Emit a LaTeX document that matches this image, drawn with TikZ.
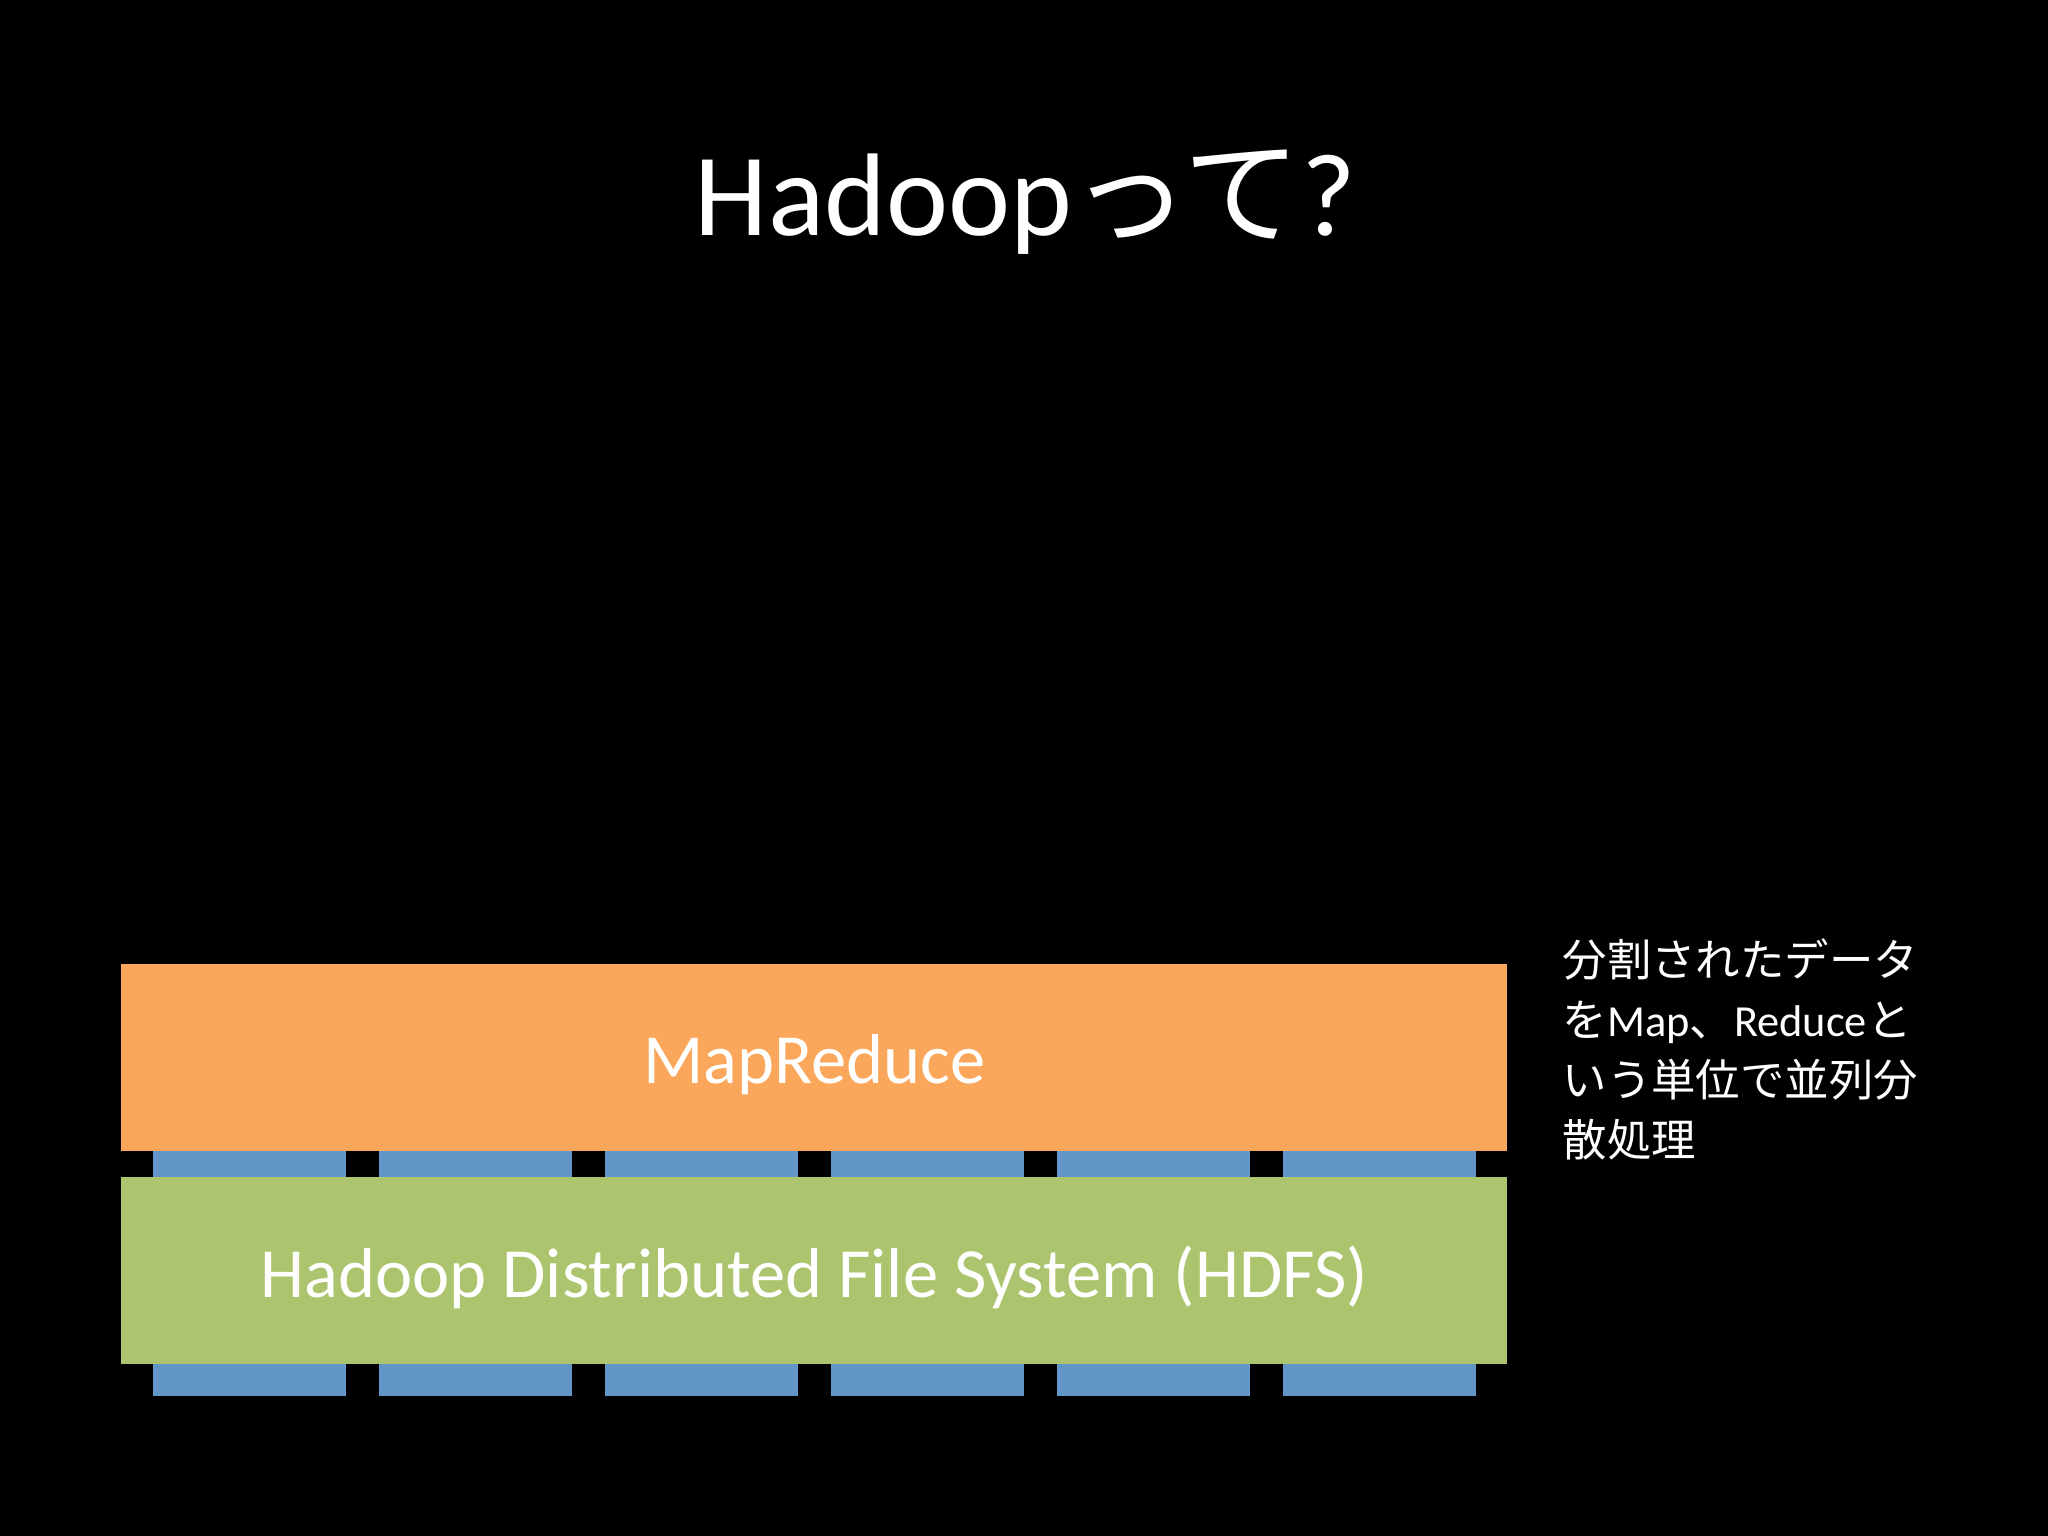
\documentclass[tikz,border=0pt]{standalone}
\usepackage{fontspec}
\setmainfont{Carlito}
\newfontfamily\jp{Noto Sans CJK JP}
\definecolor{orng}{HTML}{FBA75B}
\definecolor{grn}{HTML}{ADC46E}
\definecolor{blu}{HTML}{6396C8}
\begin{document}
\begin{tikzpicture}[x=0.5pt,y=-0.5pt,
  layer/.style={inner sep=0pt,text=white,font=\fontsize{27}{32}\selectfont},
  blk/.style={fill=blu,draw=none}]
\fill[black] (0,0) rectangle (1568,1176);
\useasboundingbox (0,0) rectangle (1568,1176);
\node[text=white,font=\fontsize{45}{52}\selectfont] (title) at (785,155) {Hadoop{\jp って}?};
\fill[orng] (93,738) rectangle (1154,881);
\node[layer] (mr) at (623.5,815) {MapReduce};
\fill[grn] (93,901) rectangle (1154,1044);
\node[layer] (hdfs) at (623.5,978) {Hadoop Distributed File System (HDFS)};
\foreach \i/\x in {1/117,2/290,3/463,4/636,5/809,6/982}{
  \fill[blk] (\x,881) rectangle ++(148,20);
  \fill[blk] (\x,1044) rectangle ++(148,25);
}
\node[text=white,anchor=north west,align=left,inner sep=0pt,
  font=\fontsize{17}{23}\selectfont] (desc) at (1196,718)
  {{\jp 分割されたデータ}\\{\jp を}Map{\jp 、}Reduce{\jp と}\\{\jp いう単位で並列分}\\{\jp 散処理}};
\end{tikzpicture}
\end{document}
